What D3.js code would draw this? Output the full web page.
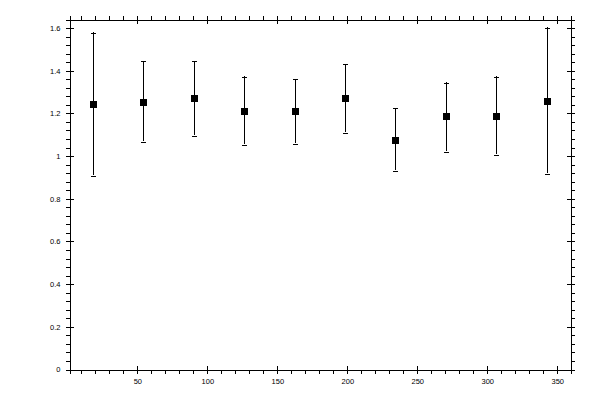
<!DOCTYPE html>
<html>
<head>
<meta charset="utf-8">
<script src="https://cdn.jsdelivr.net/npm/d3@7"></script>
<style>
  body { margin: 0; background: #fff; }
  svg { display: block; }
  .axis path, .axis line { stroke: #000; shape-rendering: crispEdges; }
  .axis text { font-family: "Liberation Sans", sans-serif; font-size: 7.5px; fill: #000; -webkit-font-smoothing: antialiased; }
</style>
</head>
<body>
<div id="chart"></div>
<script>
// angle bins (x) with measured value and error bar limits
const angles = [18, 54, 90, 126, 162, 198, 234, 270, 306, 342];
const values = [1.247, 1.256, 1.275, 1.214, 1.214, 1.275, 1.078, 1.188, 1.191, 1.261];
const upper  = [1.580, 1.447, 1.447, 1.374, 1.363, 1.433, 1.227, 1.346, 1.374, 1.604];
const lower  = [0.911, 1.069, 1.097, 1.055, 1.060, 1.111, 0.934, 1.022, 1.008, 0.919];

const xMajor = [50, 100, 150, 200, 250, 300, 350];
const xMinor = d3.range(10, 360, 10);
const yMajor = [0, 0.2, 0.4, 0.6, 0.8, 1, 1.2, 1.4, 1.6];
const yMinor = d3.range(0, 41).map(i => i * 0.04);

const margin = { top: 19.5, right: 29.5, bottom: 30.5, left: 69.5 },
      width = 600 - margin.left - margin.right,
      height = 400 - margin.top - margin.bottom;

const svg = d3.select("#chart")
    .append("svg")
    .attr("width", 600)
    .attr("height", 400)
    .append("g")
    .attr("transform", `translate(${margin.left},${margin.top})`);

const x = d3.scaleLinear().domain([1.5, 359.5]).range([0, width]);
const y = d3.scaleLinear().domain([0, 1.64]).range([height, 0]);

const fmtY = d => d === 0 ? "0" : d === 1 ? "1" : d3.format(".1f")(d);

// minor ticks point outward, majors cross the frame
function frameSide(axisFn, scale, minor, major, transform, fmt) {
    const g = svg.append("g").attr("class", "axis").attr("transform", transform);
    g.append("g").call(axisFn(scale).tickValues(minor).tickSize(4).tickFormat(""));
    g.append("g").call(axisFn(scale).tickValues(major).tickSize(4).tickFormat(""));
    const inner = g.append("g").call(axisFn(scale).tickValues(major).tickSize(-4).tickPadding(9).tickFormat(fmt || ""));
    inner.select(".domain").remove();
    g.selectAll(".domain").attr("stroke-width", 1);
    return inner;
}

frameSide(d3.axisBottom, x, xMinor, xMajor, `translate(0,${height})`, d3.format("d"));
frameSide(d3.axisTop, x, xMinor, xMajor, "translate(0,0)");
frameSide(d3.axisLeft, y, yMinor, yMajor, "translate(0,0)", fmtY);
frameSide(d3.axisRight, y, yMinor, yMajor, `translate(${width},0)`);

svg.selectAll(".axis text").attr("font-size", "7.5px");

const data = angles.map((a, i) => ({ a, v: values[i], hi: upper[i], lo: lower[i] }));

const bars = svg.append("g")
    .attr("stroke", "#000")
    .attr("stroke-width", 1)
    .attr("shape-rendering", "crispEdges");

bars.selectAll(".err")
    .data(data)
    .join("line")
    .attr("x1", d => Math.round(x(d.a)) + 0.5)
    .attr("x2", d => Math.round(x(d.a)) + 0.5)
    .attr("y1", d => y(d.hi))
    .attr("y2", d => y(d.lo));

bars.selectAll(".capTop")
    .data(data)
    .join("line")
    .attr("x1", d => Math.round(x(d.a)) - 2)
    .attr("x2", d => Math.round(x(d.a)) + 3)
    .attr("y1", d => Math.round(y(d.hi)) + 0.5)
    .attr("y2", d => Math.round(y(d.hi)) + 0.5);

bars.selectAll(".capBot")
    .data(data)
    .join("line")
    .attr("x1", d => Math.round(x(d.a)) - 2)
    .attr("x2", d => Math.round(x(d.a)) + 3)
    .attr("y1", d => Math.round(y(d.lo)) + 0.5)
    .attr("y2", d => Math.round(y(d.lo)) + 0.5);

svg.selectAll(".pt")
    .data(data)
    .join("rect")
    .attr("class", "pt")
    .attr("x", d => Math.round(x(d.a)) - 3)
    .attr("y", d => Math.round(y(d.v)) - 3)
    .attr("width", 7)
    .attr("height", 7)
    .attr("fill", "#000")
    .attr("shape-rendering", "crispEdges");
</script>
</body>
</html>
